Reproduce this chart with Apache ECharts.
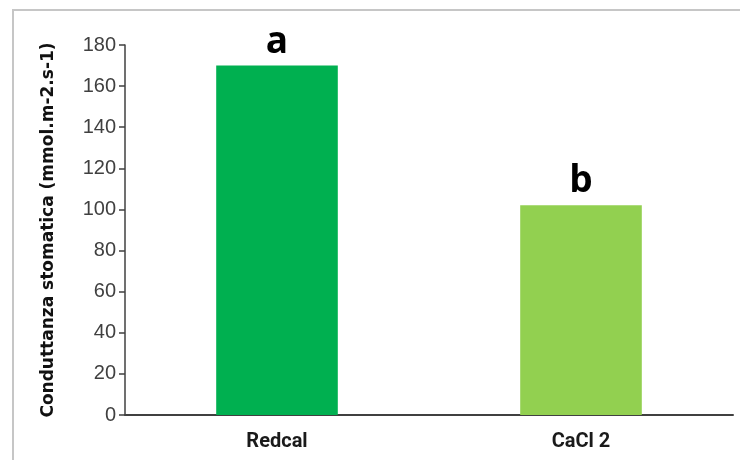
<!DOCTYPE html>
<html><head><meta charset="utf-8">
<script src="https://cdn.jsdelivr.net/npm/echarts@6/dist/echarts.min.js"></script>
<style>html,body{margin:0;padding:0;background:#fff}#c{width:740px;height:460px}</style>
</head><body><div id="c"></div>
<script>
const categories = ['Redcal', 'CaCl 2'];
const values = [170, 102];
const letters = ['a', 'b'];
const barColors = ['#00B050', '#92D050'];
const yTicks = [0, 20, 40, 60, 80, 100, 120, 140, 160, 180];

const chart = echarts.init(document.getElementById('c'));
chart.setOption({
  animation: false,
  backgroundColor: '#fff',
  graphic: [{
    type: 'rect', shape: {x: 13, y: 10, width: 740, height: 470},
    style: {fill: 'none', stroke: '#c6c6c6', lineWidth: 2}, silent: true
  }],
  grid: {left: 125, right: 7, top: 45, bottom: 45},
  xAxis: {
    type: 'category', data: categories,
    axisLine: {lineStyle: {color: '#404040', width: 2}},
    axisTick: {show: false},
    axisLabel: {color: '#1a1a1a', fontSize: 20, fontWeight: 'bold', fontFamily: 'Roboto', margin: 17}
  },
  yAxis: {
    type: 'value', min: yTicks[0], max: yTicks[yTicks.length-1], interval: 20,
    name: 'Conduttanza stomatica (mmol.m-2.s-1)',
    nameLocation: 'middle', nameGap: 68,
    nameTextStyle: {color: '#111', fontSize: 17, fontWeight: 'bold', fontFamily: 'DejaVu Sans'},
    axisLine: {show: true, lineStyle: {color: '#404040', width: 1.5}},
    axisTick: {show: true, length: 6, lineStyle: {color: '#404040', width: 1.5}},
    axisLabel: {color: '#404040', fontSize: 20, fontFamily: 'Liberation Sans', margin: 9},
    splitLine: {show: false}
  },
  series: [{
    type: 'bar', barWidth: '40%',
    data: values.map((v, i) => ({value: v, itemStyle: {color: barColors[i]},
      label: {show: true, position: 'top', distance: 5, formatter: letters[i],
        fontSize: 37, fontWeight: 'bold', color: '#000', fontFamily: 'Open Sans'}}))
  }]
});
</script></body></html>
